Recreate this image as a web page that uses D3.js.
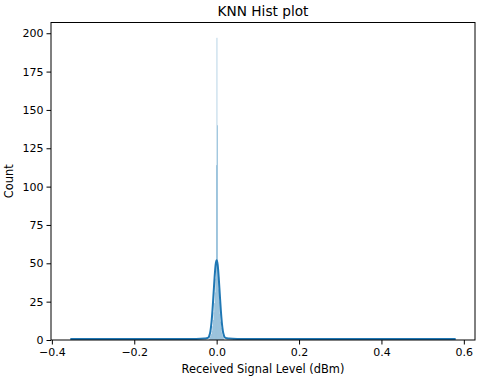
<!DOCTYPE html>
<html>
<head>
<meta charset="utf-8">
<script src="https://cdn.jsdelivr.net/npm/d3@7"></script>
<style>
  body { margin: 0; background: #fff; }
  text { font-family: "DejaVu Sans", sans-serif; fill: #000; }
</style>
</head>
<body>
<svg id="chart" width="480" height="383"></svg>
<script>
// histogram bins (left edge, count) - only the non-empty ones
var binWidth = 0.0015;
var binEdges = [-0.355, -0.21, -0.09, -0.05, -0.018, -0.0165, -0.015, -0.0135, -0.012, -0.0105, -0.009, -0.0075,
    -0.006, -0.0045, -0.003, -0.0015, 0, 0.0015, 0.003, 0.0045, 0.006, 0.0075, 0.009, 0.0105, 0.012,
    0.0135, 0.015, 0.0165, 0.04, 0.07, 0.12, 0.18, 0.26, 0.35, 0.45, 0.5785];
var binCounts = [1, 1, 1, 1, 1, 2, 3, 4, 6, 9, 13, 18,
    24, 31, 40, 114, 197, 140, 42, 33, 25, 17, 12, 8, 5,
    3, 2, 1, 1, 1, 1, 1, 1, 1, 1, 1];

// kde curve
var kdeX = [-0.355, -0.3, -0.2, -0.1, -0.05, -0.03, -0.025, -0.02, -0.0175, -0.015, -0.0125, -0.01, -0.0075,
    -0.005, -0.0025, 0, 0.0025, 0.005, 0.0075, 0.01, 0.0125, 0.015, 0.0175, 0.02, 0.025, 0.03, 0.05,
    0.1, 0.2, 0.3, 0.4, 0.5, 0.58];
var kdeY = [0.6, 0.6, 0.6, 0.6, 0.7, 0.9, 1.1, 1.6, 3.0, 6.0, 11.5, 19.8, 30.2,
    40.8, 49, 52, 49, 40.8, 30.2, 19.8, 11.5, 6.0, 3.0, 1.6, 1.1, 0.9, 0.7,
    0.6, 0.6, 0.6, 0.6, 0.6, 0.6];

var xTicks = [-0.4, -0.2, 0.0, 0.2, 0.4, 0.6];
var yTicks = [0, 25, 50, 75, 100, 125, 150, 175, 200];

var svg = d3.select("#chart"),
    plotLeft = 51, plotRight = 475, plotTop = 22.5, plotBottom = 340;

var x = d3.scaleLinear().domain([-0.4021, 0.6271]).range([plotLeft, plotRight]);
var y = d3.scaleLinear().domain([0, 207]).range([plotBottom, plotTop]);

var bins = binEdges.map(function (e, i) { return { x0: e, count: binCounts[i] }; });

svg.append("g").selectAll("rect")
    .data(bins)
    .enter().append("rect")
    .attr("x", function (d) { return x(d.x0); })
    .attr("width", function (d) { return x(d.x0 + binWidth) - x(d.x0); })
    .attr("y", function (d) { return y(d.count); })
    .attr("height", function (d) { return y(0) - y(d.count); })
    .attr("fill", "#1f77b4")
    .attr("fill-opacity", 0.5);

var line = d3.line()
    .x(function (d) { return x(d[0]); })
    .y(function (d) { return y(d[1]); })
    .curve(d3.curveMonotoneX);

svg.append("path")
    .datum(kdeX.map(function (v, i) { return [v, kdeY[i]]; }))
    .attr("d", line)
    .attr("fill", "none")
    .attr("stroke", "#1f77b4")
    .attr("stroke-width", 2);

svg.append("g")
    .attr("transform", "translate(0," + plotBottom + ")")
    .call(d3.axisBottom(x).tickValues(xTicks).tickSize(4.5).tickPadding(3.5)
        .tickFormat(function (d) { return d3.format(".1f")(d).replace("-", "\u2212"); }));

svg.append("g")
    .attr("transform", "translate(" + plotLeft + ",0)")
    .call(d3.axisLeft(y).tickValues(yTicks).tickSize(4.5).tickPadding(3));

svg.selectAll(".domain").remove();
svg.selectAll(".tick line").attr("stroke", "#000").attr("stroke-width", 1);
svg.selectAll(".tick text").attr("font-size", 11).attr("font-family", "DejaVu Sans").attr("fill", "#000");

// frame
svg.append("rect")
    .attr("x", plotLeft)
    .attr("y", plotTop)
    .attr("width", plotRight - plotLeft)
    .attr("height", plotBottom - plotTop)
    .attr("fill", "none")
    .attr("stroke", "#000")
    .attr("stroke-width", 1);

svg.append("text")
    .attr("x", (plotLeft + plotRight) / 2)
    .attr("y", 16)
    .attr("text-anchor", "middle")
    .attr("font-size", 13.7)
    .text("KNN Hist plot");

svg.append("text")
    .attr("x", (plotLeft + plotRight) / 2)
    .attr("y", 373)
    .attr("text-anchor", "middle")
    .attr("font-size", 11.4)
    .text("Received Signal Level (dBm)");

svg.append("text")
    .attr("transform", "translate(13," + (plotTop + plotBottom) / 2 + ") rotate(-90)")
    .attr("text-anchor", "middle")
    .attr("font-size", 11.4)
    .text("Count");
</script>
</body>
</html>
